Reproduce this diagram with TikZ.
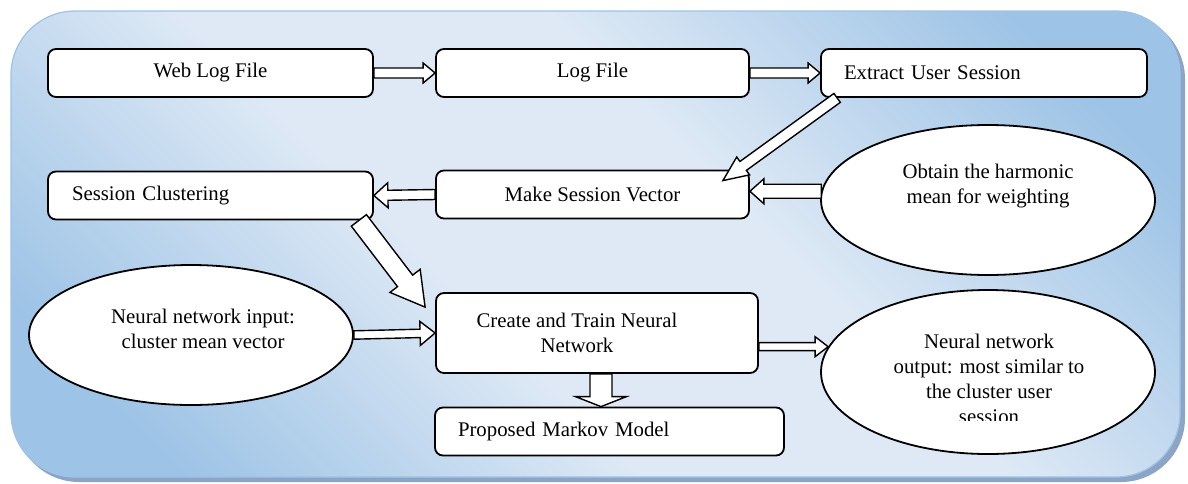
\documentclass[tikz,border=0pt]{standalone}
\usepackage{fontspec}
\setmainfont{Liberation Serif}
\newfontfamily\labelfont{Liberation Serif}
\usetikzlibrary{calc}
\usetikzlibrary{shapes.geometric}
\definecolor{bgdark}{HTML}{9DC3E6}
\definecolor{bglight}{HTML}{DEE9F5}
\definecolor{bgshadow}{HTML}{8CA5C6}
\pgfdeclareverticalshading{bgshade}{100bp}{color(0bp)=(bgdark); color(22bp)=(bgdark); color(42bp)=(bglight); color(58bp)=(bglight); color(78bp)=(bgdark); color(100bp)=(bgdark)}
\newcommand{\blockarrow}[5]{%
  \coordinate (ba-s) at (#1);
  \coordinate (ba-e) at (#2);
  \coordinate (ba-n) at ($(ba-e)!#5!(ba-s)$);
  \draw[arrowline] ($(ba-s)!#3!90:(ba-e)$) -- ($(ba-n)!#3!-90:(ba-s)$) -- ($(ba-n)!#4!-90:(ba-s)$) -- (ba-e)
    -- ($(ba-n)!#4!90:(ba-s)$) -- ($(ba-n)!#3!90:(ba-s)$) -- ($(ba-s)!#3!-90:(ba-e)$) -- cycle;}

\begin{document}
\begin{tikzpicture}[x=0.5pt,y=-0.5pt,font=\labelfont\fontsize{10.4}{12.5}\selectfont,
  box/.style={draw,line width=0.9pt,rounded corners=4pt,fill=white,minimum height=24pt,inner sep=0pt},
  oval/.style={ellipse,draw,line width=0.9pt,fill=white,inner sep=0pt},
  arrowline/.style={draw,fill=white,line width=0.7pt,line join=miter}]
  \useasboundingbox (0,0) rectangle (1188,483);
  \fill[bgshadow,rounded corners=32pt] (15,15) rectangle (1185,482);
  \shadedraw[shading=bgshade,shading angle=-45,rounded corners=32pt,draw=bgdark,line width=0.6pt] (11,11) rectangle (1180,477);

  \node[box,minimum width=162.5pt] (web) at (210.5,73) {Web Log File};
  \node[box,minimum width=156.5pt] (logf) at (592.5,73) {Log File};
  \node[box,minimum width=163pt,inner xsep=11.5pt,text width=140pt,align=left] (extract) at (984,73) {Extract User Session};
  \node[box,minimum width=162.5pt,inner xsep=12pt,text width=138.5pt,align=left] (session) at (210.5,195.5) {Session Clustering};
  \node[box,minimum width=156.5pt] (make) at (592.5,194.5) {Make Session Vector};
  \node[oval,minimum width=167pt,minimum height=75pt,
    label={[align=center,yshift=7pt]center:{Obtain the harmonic\\mean for weighting}}] (obtain) at (988,200) {};
  \node[box,minimum width=161pt,minimum height=40pt,
    label={[align=center,xshift=-10pt]center:{Create and Train Neural\\Network}}] (create) at (597,333) {};
  \node[oval,minimum width=162pt,minimum height=70pt,
    label={[align=center,xshift=6pt,yshift=3pt]center:{Neural network input:\\cluster mean vector}}] (input) at (191,335) {};
  \node[oval,minimum width=167pt,minimum height=82pt] (output) at (988,372) {};
  \begin{scope}
    \clip (820,300) rectangle (1160,420);
    \node[align=center] (outtext) at (989,379) {Neural network\\output: most similar to\\the cluster user\\session};
  \end{scope}
  \node[box,minimum width=174.5pt,inner xsep=11.5pt,text width=151.5pt,align=left] (markov) at (609.5,431.5) {Proposed Markov Model};

  \blockarrow{web.east}{logf.west}{2.5pt}{5pt}{6pt}
  \blockarrow{logf.east}{extract.west}{2.5pt}{5pt}{6pt}
  \coordinate (exfoot) at ($(extract.south west)+(17,0)$);
  \coordinate (mkhit) at ($(make.north east)+(-27,11)$);
  \blockarrow{exfoot}{mkhit}{2.75pt}{5.5pt}{12.5pt}
  \blockarrow{obtain.177}{make.east |- obtain.177}{3.5pt}{6.25pt}{7pt}
  \blockarrow{make.west}{session.east}{2.5pt}{6.25pt}{7pt}
  \coordinate (scfoot) at ($(session.south east)+(-15,0)$);
  \coordinate (crhit) at ($(create.north west)+(-10,15)$);
  \blockarrow{scfoot}{crhit}{4.75pt}{9.5pt}{16.5pt}
  \blockarrow{input.east}{create.west}{2.1pt}{6pt}{7.5pt}
  \blockarrow{create.east |- output.171}{output.171}{2pt}{5pt}{6.5pt}
  \coordinate (crfoot) at ($(create.south)+(4,0)$);
  \blockarrow{crfoot}{markov.north -| crfoot}{5.5pt}{12.75pt}{5pt}
\end{tikzpicture}
\end{document}
